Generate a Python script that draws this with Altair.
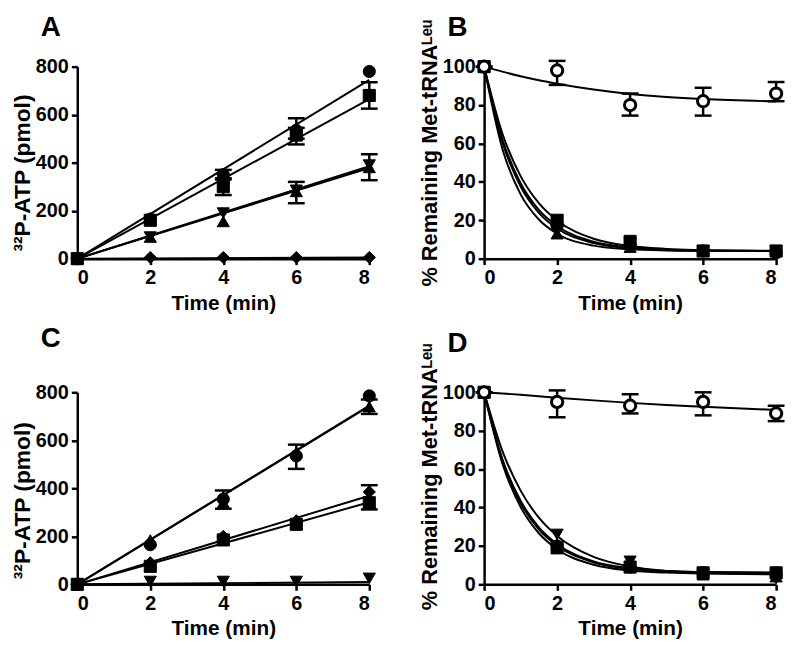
import altair as alt
import pandas as pd

FONT = "Liberation Sans"

# shared time points
T = [0, 2, 4, 6, 8]            # measured time points (min)
TL = [0, 8]                    # linear fit line ends
TC = [0, 0.5, 1, 1.5, 2, 3, 4, 5, 6, 8]   # samples

# ---------------- Panel A ----------------
A_vals = {
    "circle": [0, 165, 350, 535, 780],
    "square": [0, 160, 300, 515, 680],
    "triangle-up": [0, 90, 155, 280, 380],
    "triangle-down": [0, 90, 190, 285, 390],
    "diamond": [2, 5, 5, 5, 5],
}
A_fit = {
    "circle": [0, 745],
    "square": [0, 665],
    "triangle-up": [0, 378],
    "triangle-down": [0, 385],
    "diamond": [0, 5],
}
A_err_t = [4, 4, 6, 6, 8, 6, 8]
A_err_lo = [330, 265, 500, 476, 625, 231, 327]
A_err_hi = [370, 335, 585, 545, 735, 320, 435]

# ---------------- Panel B ----------------
B_open = [100, 98, 80, 82, 86]
B_open_curve = [100, 97.4, 95.0, 92.9, 91.1, 88.1, 85.8, 84.2, 83.1, 81.9]
B_open_err_lo = [100, 90.5, 74.5, 74.5, 82]
B_open_err_hi = [100, 103, 86, 89, 92]
B_vals = {
    "circle": [100, 17, 7, 4, 3],
    "square": [100, 20, 9, 4, 4],
    "triangle-up": [100, 13, 6, 4, 4],
    "triangle-down": [100, 16, 8, 4, 4],
}
B_curves = {
    "circle": [100, 62.2, 39.3, 25.4, 17.0, 8.8, 5.8, 4.6, 4.2, 4.0],
    "square": [100, 65.2, 43.0, 28.9, 19.9, 10.4, 6.6, 5.1, 4.4, 4.1],
    "triangle-up": [100, 57.2, 33.5, 20.4, 13.0, 6.8, 4.9, 4.3, 4.1, 4.0],
    "triangle-down": [100, 60.8, 37.6, 23.9, 15.7, 8.1, 5.4, 4.5, 4.2, 4.0],
}

# ---------------- Panel C ----------------
C_vals = {
    "circle": [0, 165, 355, 535, 785],
    "triangle-up": [0, 185, 340, 550, 740],
    "diamond": [0, 90, 200, 265, 385],
    "square": [0, 75, 185, 250, 340],
    "triangle-down": [0, 12, 12, 12, 25],
}
C_fit = {
    "circle": [0, 745],
    "triangle-up": [0, 742],
    "diamond": [0, 369],
    "square": [0, 342],
    "triangle-down": [0, 10],
}
C_err_t = [4, 6, 8, 8]
C_err_lo = [315, 481, 710, 312]
C_err_hi = [391, 582, 770, 413]

# ---------------- Panel D ----------------
D_open = [100, 95, 93, 95, 89]
D_open_curve = [100, 99.4, 98.7, 97.9, 97.2, 95.8, 94.5, 93.4, 92.5, 90.8]
D_open_err_lo = [100, 87, 89, 88, 85]
D_open_err_hi = [100, 101, 99, 100, 93]
D_vals = {
    "circle": [100, 20, 9, 6, 5],
    "square": [100, 19, 9, 6, 6],
    "triangle-up": [100, 21, 10, 5, 4],
    "triangle-down": [100, 26, 12, 5, 3],
}
D_curves = {
    "circle": [100, 64.5, 42.4, 28.6, 20.1, 11.4, 8.1, 6.8, 6.3, 6.05],
    "square": [100, 62.9, 40.3, 26.6, 18.3, 10.2, 7.2, 6.1, 5.7, 5.5],
    "triangle-up": [100, 65.3, 43.5, 29.7, 21.0, 11.9, 8.4, 6.9, 6.4, 6.06],
    "triangle-down": [100, 69.5, 48.8, 34.7, 25.2, 14.3, 9.3, 7.0, 5.9, 5.2],
}

SHAPES = ["circle", "square", "triangle-up", "triangle-down", "diamond"]


def long_df(times, d):
    rows = []
    for k, vals in d.items():
        for t, v in zip(times, vals):
            rows.append({"t": t, "v": v, "series": k})
    return pd.DataFrame(rows)


W, H = 295, 194


def panel(letter, ytitle, ymax, yticks, pts, lines, interp, err, open_pts=None, open_line=None,
          letter_y=-53, title_shift=0, title_size=21):
    xaxis = alt.Axis(values=[0, 2, 4, 6, 8], title="Time (min)", format="d")
    yaxis = alt.Axis(values=yticks, tickCount=len(yticks), title=ytitle, format="d",
                     labelOverlap=False, labelFlush=False, labelBound=False,
                     titleY=H / 2 + title_shift, titleFontSize=title_size)
    xs = alt.Scale(domain=[0, 8], nice=False)
    ys = alt.Scale(domain=[0, ymax], nice=False)

    def X(field="t"):
        return alt.X(f"{field}:Q", scale=xs, axis=xaxis)

    def Y(field="v"):
        return alt.Y(f"{field}:Q", scale=ys, axis=yaxis)

    layers = []
    layers.append(alt.Chart(lines).mark_line(color="black", strokeWidth=2, interpolate=interp)
                  .encode(x=X(), y=Y(), detail="series:N"))
    if open_line is not None:
        layers.append(alt.Chart(open_line).mark_line(color="black", strokeWidth=2, interpolate=interp)
                      .encode(x=X(), y=Y()))
    errs = [err]
    if open_pts is not None:
        errs.append(open_pts[["t", "lo", "hi"]])
    edf = pd.concat(errs, ignore_index=True)
    layers.append(alt.Chart(edf).mark_rule(color="black", strokeWidth=2.5, opacity=1)
                  .encode(x=X(), y=Y("lo"), y2="hi:Q"))
    for col in ["lo", "hi"]:
        layers.append(alt.Chart(edf).mark_tick(color="black", thickness=2.5, size=17, orient="horizontal",
                                               opacity=1)
                      .encode(x=X(), y=Y(col)))
    layers.append(alt.Chart(pts).mark_point(filled=True, size=150, color="black", opacity=1,
                                            stroke="black", strokeWidth=1)
                  .encode(x=X(), y=Y(),
                          shape=alt.Shape("series:N", scale=alt.Scale(domain=SHAPES, range=SHAPES), legend=None)))
    if open_pts is not None:
        layers.append(alt.Chart(open_pts).mark_point(filled=False, size=130, stroke="black", fill="white",
                                                     strokeWidth=3, opacity=1, shape="circle")
                      .encode(x=X(), y=Y()))
    layers.append(alt.Chart(pd.DataFrame({"letter": [letter]}))
                  .mark_text(align="left", baseline="top", fontSize=28, fontWeight="bold",
                             font=FONT, color="black")
                  .encode(text="letter:N", x=alt.value(-37), y=alt.value(letter_y)))
    return alt.layer(*layers).properties(width=W, height=H)


dfA = panel("A", "³²P-ATP (pmol)", 800, [0, 200, 400, 600, 800],
            long_df(T, A_vals), long_df(TL, A_fit), "linear",
            pd.DataFrame({"t": A_err_t, "lo": A_err_lo, "hi": A_err_hi}),
            letter_y=-53, title_shift=10, title_size=23)

openB = pd.DataFrame({"t": T, "v": B_open, "lo": B_open_err_lo, "hi": B_open_err_hi})
dfB = panel("B", "% Remaining Met-tRNAᴸᵉᵘ", 100, [0, 20, 40, 60, 80, 100],
            long_df(T, B_vals), long_df(TC, B_curves), "monotone",
            pd.DataFrame({"t": [], "lo": [], "hi": []}),
            open_pts=openB, open_line=pd.DataFrame({"t": TC, "v": B_open_curve}),
            letter_y=-53, title_shift=-10, title_size=22)

dfC = panel("C", "³²P-ATP (pmol)", 800, [0, 200, 400, 600, 800],
            long_df(T, C_vals), long_df(TL, C_fit), "linear",
            pd.DataFrame({"t": C_err_t, "lo": C_err_lo, "hi": C_err_hi}),
            letter_y=-68, title_shift=12, title_size=23)

openD = pd.DataFrame({"t": T, "v": D_open, "lo": D_open_err_lo, "hi": D_open_err_hi})
dfD = panel("D", "% Remaining Met-tRNAᴸᵉᵘ", 100, [0, 20, 40, 60, 80, 100],
            long_df(T, D_vals), long_df(TC, D_curves), "monotone",
            pd.DataFrame({"t": [], "lo": [], "hi": []}),
            open_pts=openD, open_line=pd.DataFrame({"t": TC, "v": D_open_curve}),
            letter_y=-63, title_shift=-12, title_size=22)

chart = alt.vconcat(
    alt.hconcat(dfA, dfB, spacing=40),
    alt.hconcat(dfC, dfD, spacing=40),
    spacing=12,
).properties(padding={"left": 3, "top": 3, "right": 0, "bottom": 0}).configure_view(stroke=None).configure_axis(
    domainColor="black", domainWidth=2.5, tickColor="black", tickWidth=2.5, tickSize=6,
    labelFont=FONT, labelFontSize=20, labelFontWeight="bold", labelColor="black", labelPadding=3,
    labelOverlap=False,
    titleFont=FONT, titleFontSize=21, titleFontWeight="bold", titleColor="black",
    grid=False,
).configure_axisX(titlePadding=5).configure_axisY(titlePadding=1)

chart.save("out.html", embed_options={"renderer": "svg", "actions": False})
